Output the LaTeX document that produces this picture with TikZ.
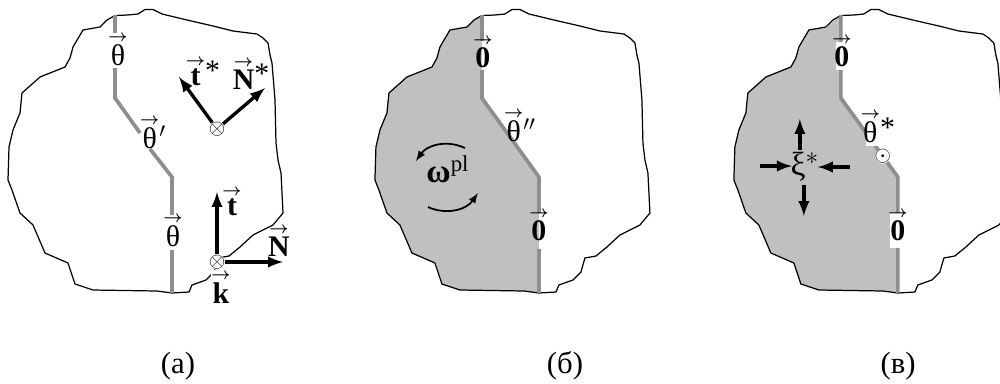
\documentclass[tikz,border=0pt]{standalone}
\usepackage{amsmath}
\usepackage{fontspec}
\setmainfont{Liberation Serif}
\definecolor{seamgray}{HTML}{8E8E8E}
\definecolor{bodygray}{HTML}{C0C0C0}
\newcommand{\vecmark}[1]{$\overset{\raisebox{-3pt}{\scalebox{0.55}{$\boldsymbol{\rightarrow}$}}}{\mbox{#1}}$}
\newcommand{\starmark}{\raisebox{3pt}{*}}
\newcommand{\rightpart}{(115,15.5) -- (128,15) -- (138,14) -- (145,9.5) -- (153,9.5) -- (162,14) -- (187,20) -- (213,26) -- (233,31) -- (257,34) -- (263,38) -- (268,43) -- (270,55) -- (272,63) -- (275,100) -- (276,143) -- (278,160) -- (281,173) -- (283,213) -- (273,225) -- (253,235) -- (240,247) -- (229,256) -- (218,258) -- (214,272) -- (206,280) -- (192,285) -- (189,292) -- (172,293)}
\newcommand{\leftpart}{(115,15.5) -- (107,20) -- (100,27) -- (83,30) -- (73,47) -- (70,58) -- (65,67) -- (40,77) -- (22,93) -- (20,113) -- (13,130) -- (9,147) -- (8,180) -- (12,190) -- (20,213) -- (33,225) -- (45,253) -- (68,263) -- (75,284) -- (93,290) -- (157,291) -- (172,293)}
\tikzset{
    labeltext/.style={font=\fontsize{17}{17}\selectfont, inner sep=0pt},
    seamline/.style={draw=seamgray, line width=2.1pt},
    blackarrow/.style={->, line width=1.9pt},
    mark circle/.style={circle, fill=white, inner sep=-1.3pt, font=\fontsize{11.5}{11.5}\selectfont},
    roundarrow/.style={->, line width=1pt},
    caption/.style={font=\fontsize{17.5}{17.5}\selectfont, inner sep=0pt}
}
\begin{document}
\begin{tikzpicture}[>=latex, x=0.02cm, y=-0.02cm]
    \clip (0,0) rectangle (1000,383);

    % 1. Panel (a)
    \draw[line width=0.7pt] \rightpart;
    \draw[line width=0.7pt] \leftpart;
    \coordinate (a0) at (115,15);
    \coordinate (agap1) at (115,33);
    \coordinate (agap2) at (115,68);
    \coordinate (a1) at (115,98);
    \coordinate (agap3) at (140,133);
    \coordinate (agap4) at (150,149);
    \coordinate (a2) at (172,177);
    \coordinate (agap5) at (172,215);
    \coordinate (agap6) at (172,250);
    \coordinate (a3) at (172,293);
    \draw[seamline] (a0) -- (agap1);
    \draw[seamline] (agap2) -- (a1) -- (agap3);
    \draw[seamline] (agap4) -- (a2) -- (agap5);
    \draw[seamline] (agap6) -- (a3);
    \node[labeltext] (atop) at (118,49) {\vecmark{θ}};
    \node[labeltext] (amid) at (153,132) {\vecmark{θ}$^{\prime}$};
    \node[labeltext] (abot) at (173,230) {\vecmark{θ}};

    % Upper pair of vectors
    \coordinate (tstar) at (179,77);
    \coordinate (nstar) at (265,88);
    \node[mark circle] (star) at (217,129) {$\otimes$};
    \draw[blackarrow] (star) -- (tstar);
    \draw[blackarrow] (star) -- (nstar);
    \node[labeltext] (tstarlab) at (203,71) {\vecmark{\textbf{t}}\starmark};
    \node[labeltext] (nstarlab) at (251,73) {\vecmark{\textbf{N}}\starmark};

    % Lower pair of vectors
    \coordinate (tend) at (217,192);
    \coordinate (nend) at (283,262);
    \node[mark circle] (base) at (217,262) {$\otimes$};
    \draw[blackarrow] (base) -- (tend);
    \draw[blackarrow] (base) -- (nend);
    \node[labeltext] (tlab) at (232,201) {\vecmark{\textbf{t}}};
    \node[labeltext] (nlab) at (279,240) {\vecmark{\textbf{N}}};
    \node[labeltext, fill=white] (klab) at (221,287) {\vecmark{\textbf{k}}};

    % 2. Panel (b)
    \begin{scope}[xshift=7.34cm]
        \fill[bodygray] \leftpart -- (172,177) -- (115,98) -- cycle;
        \draw[line width=0.7pt] \rightpart;
        \draw[line width=0.7pt] \leftpart;
        \coordinate (b0) at (115,15);
        \coordinate (bgap1) at (115,41);
        \coordinate (bgap2) at (115,70);
        \coordinate (b1) at (115,98);
        \coordinate (b2) at (172,177);
        \coordinate (bgap3) at (172,213);
        \coordinate (bgap4) at (172,249);
        \coordinate (b3) at (172,293);
        \draw[seamline] (b0) -- (bgap1);
        \draw[seamline] (bgap2) -- (b1) -- (b2) -- (bgap3);
        \draw[seamline] (bgap4) -- (b3);
        \node[labeltext] (btop) at (116,51) {\vecmark{\textbf{0}}};
        \node[labeltext] (bmid) at (153,125) {\vecmark{θ}$^{\prime\prime}$};
        \node[labeltext] (bbot) at (172,224) {\vecmark{\textbf{0}}};
        \node[labeltext] (omega) at (81,169) {\textbf{\fontsize{19}{19}\selectfont ω}$^{\mbox{\fontsize{13}{13}\selectfont pl}}$};
        \coordinate (up1) at (98,148);
        \coordinate (up2) at (49,161);
        \coordinate (lo1) at (61,207);
        \coordinate (lo2) at (111,193);
        \draw[roundarrow] (up1) to[bend right=40] (up2);
        \draw[roundarrow] (lo1) to[bend right=40] (lo2);
    \end{scope}

    % 3. Panel (c)
    \begin{scope}[xshift=14.52cm]
        \fill[bodygray] \leftpart -- (172,177) -- (115,98) -- cycle;
        \draw[line width=0.7pt] \rightpart;
        \draw[line width=0.7pt] \leftpart;
        \coordinate (c0) at (115,15);
        \coordinate (c1) at (115,98);
        \coordinate (c2) at (172,177);
        \coordinate (c3) at (172,293);
        \draw[seamline] (c0) -- (c1) -- (c2) -- (c3);
        \fill[white] (110,42) rectangle (121,70);
        \fill[white] (140,116) rectangle (157,146);
        \fill[white] (164,213) rectangle (177,248);
        \node[labeltext] (ctop) at (116,50) {\vecmark{\textbf{0}}};
        \node[labeltext] (cmid) at (152,126) {\vecmark{θ}\starmark};
        \node[labeltext] (cbot) at (172,224) {\vecmark{\textbf{0}}};
        \node[mark circle] (dot) at (157,156) {$\odot$};
        \node[labeltext, font=\fontsize{19}{19}\selectfont] (xi) at (79,167) {ξ$^{*}$};
        \coordinate (xup1) at (74,150);
        \coordinate (xup2) at (74,119);
        \coordinate (xdown1) at (78,185);
        \coordinate (xdown2) at (78,216);
        \coordinate (xleft1) at (34,166);
        \coordinate (xleft2) at (66,166);
        \coordinate (xright1) at (124,167);
        \coordinate (xright2) at (92,167);
        \draw[blackarrow] (xup1) -- (xup2);
        \draw[blackarrow] (xdown1) -- (xdown2);
        \draw[blackarrow] (xleft1) -- (xleft2);
        \draw[blackarrow] (xright1) -- (xright2);
    \end{scope}

    % 4. Captions
    \node[caption] (capa) at (178,366) {(а)};
    \node[caption] (capb) at (565,366) {(б)};
    \node[caption] (capc) at (898,366) {(в)};
\end{tikzpicture}
\end{document}
